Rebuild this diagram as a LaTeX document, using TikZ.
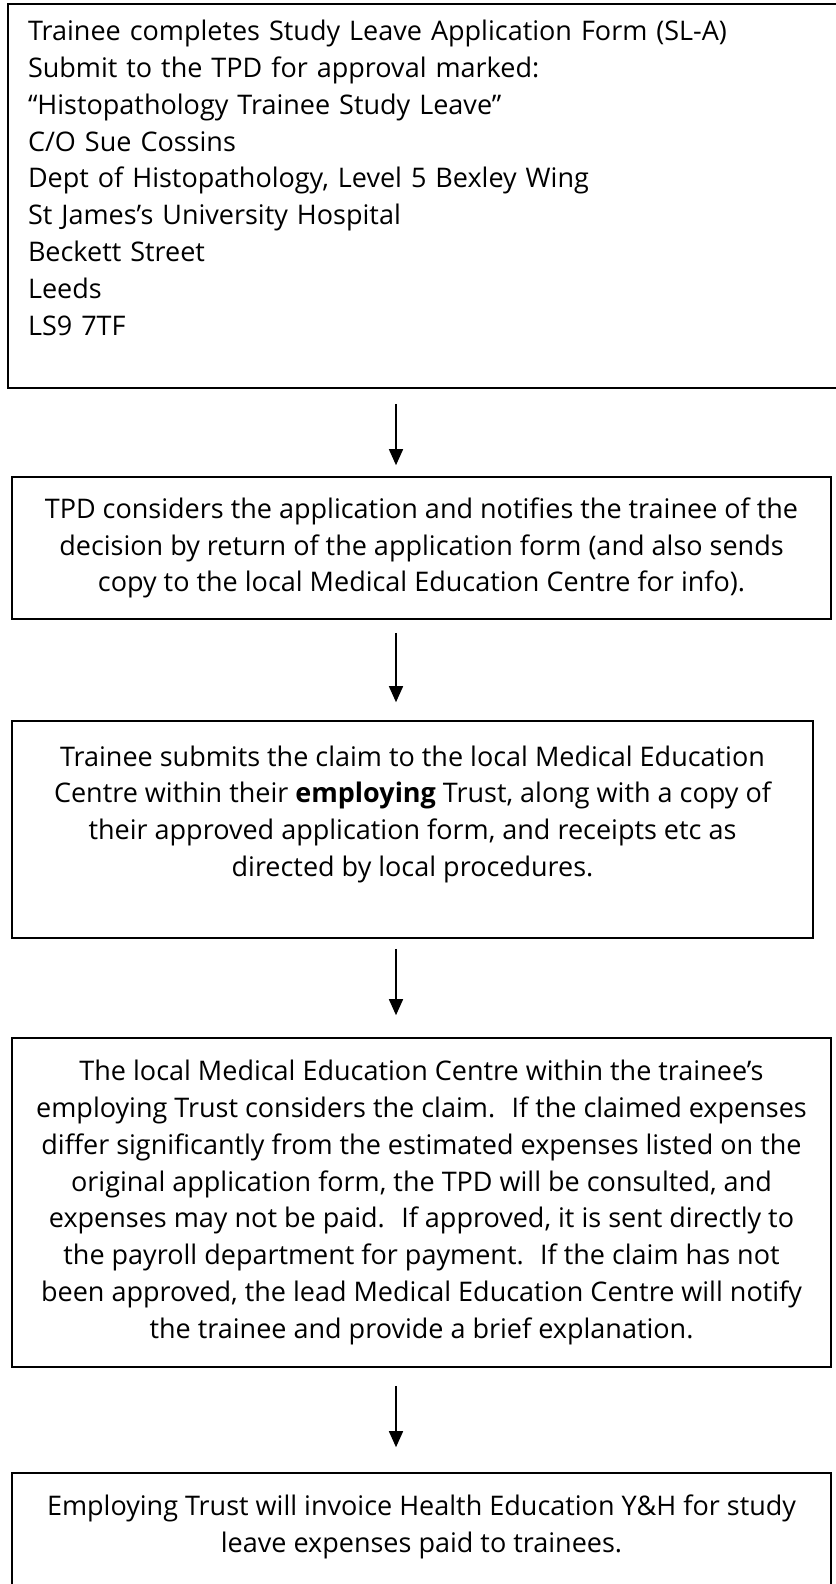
\documentclass[tikz,border=0pt]{standalone}
\usepackage{fontspec}
\setmainfont{Open Sans}
\usetikzlibrary{arrows.meta}

\begin{document}
\begin{tikzpicture}[x=1pt,y=-1pt,
  stagebox/.style={shape=rectangle,draw,line width=1.6pt,inner sep=0pt,align=center,
    font=\fontsize{27}{36.8}\selectfont},
  flowarrow/.style={line width=1.5pt,-{Triangle[width=14pt,length=16pt]}}]
\useasboundingbox (0,0) rectangle (835,1584);
\coordinate (axis) at (396,0);
\node[stagebox,align=left,text width=797pt,minimum width=837pt,minimum height=384pt] (apply) at (426.5,196)
  {Trainee completes Study Leave Application Form (SL-A)\\
   Submit to the TPD for approval marked:\\
   “Histopathology Trainee Study Leave”\\
   C/O Sue Cossins\\
   Dept of Histopathology, Level 5 Bexley Wing\\
   St James’s University Hospital\\
   Beckett Street\\
   Leeds\\
   LS9 7TF\\
   \mbox{}};
\node[stagebox,minimum width=819pt,minimum height=142pt] (decide) at (421.5,548)
  {TPD considers the application and notifies the trainee of the\\
   decision by return of the application form (and also sends\\
   copy to the local Medical Education Centre for info).};
\node[stagebox,minimum width=801pt,minimum height=217pt] (claim) at (412.5,829.5)
  {Trainee submits the claim to the local Medical Education\\
   Centre within their \textbf{employing} Trust, along with a copy of\\
   their approved application form, and receipts etc as\\
   directed by local procedures.\\
   \mbox{}};
\node[stagebox,minimum width=819pt,minimum height=329pt] (review) at (421.5,1202.5)
  {The local Medical Education Centre within the trainee’s\\
   employing Trust considers the claim.~ If the claimed expenses\\
   differ significantly from the estimated expenses listed on the\\
   original application form, the TPD will be consulted, and\\
   expenses may not be paid.~ If approved, it is sent directly to\\
   the payroll department for payment.~ If the claim has not\\
   been approved, the lead Medical Education Centre will notify\\
   the trainee and provide a brief explanation.};
\node[stagebox,minimum width=819pt,minimum height=138pt] (invoice) at (421.5,1542)
  {Employing Trust will invoice Health Education Y\&H for study\\
   leave expenses paid to trainees.\\
   \mbox{}};
% arrows between the stages
\draw[flowarrow] ([yshift=-15pt]apply.south -| axis) -- ([yshift=11pt]decide.north -| axis);
\draw[flowarrow] ([yshift=-13pt]decide.south -| axis) -- ([yshift=18pt]claim.north -| axis);
\draw[flowarrow] ([yshift=-10pt]claim.south -| axis) -- ([yshift=22pt]review.north -| axis);
\draw[flowarrow] ([yshift=-18pt]review.south -| axis) -- ([yshift=25pt]invoice.north -| axis);
\end{tikzpicture}
\end{document}
